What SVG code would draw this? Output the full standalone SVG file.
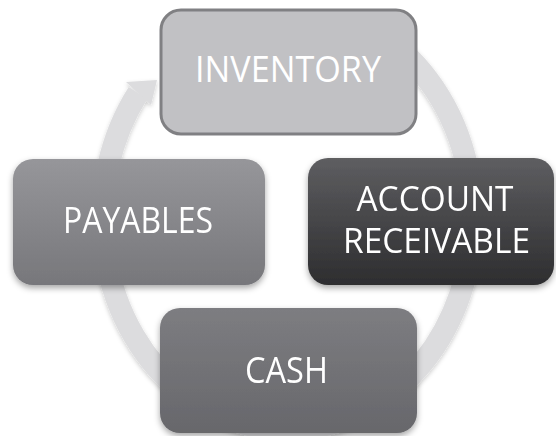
<svg xmlns="http://www.w3.org/2000/svg" width="556" height="436" viewBox="0 0 556 436">
<defs>
<filter id="sh" x="-20%" y="-20%" width="140%" height="150%">
<feDropShadow dx="0" dy="3" stdDeviation="3" flood-color="#000" flood-opacity="0.35"/>
</filter>
<filter id="shr" x="-20%" y="-20%" width="140%" height="140%">
<feDropShadow dx="0" dy="2" stdDeviation="2" flood-color="#000" flood-opacity="0.2"/>
</filter>
<linearGradient id="gAR" x1="0" y1="0" x2="0" y2="1">
<stop offset="0" stop-color="#5e5e61"/>
<stop offset="1" stop-color="#2d2d2f"/>
</linearGradient>
<linearGradient id="gPAY" x1="0" y1="0" x2="0" y2="1">
<stop offset="0" stop-color="#96969a"/>
<stop offset="1" stop-color="#77777b"/>
</linearGradient>
<linearGradient id="gCASH" x1="0" y1="0" x2="0" y2="1">
<stop offset="0" stop-color="#7d7d81"/>
<stop offset="1" stop-color="#67676b"/>
</linearGradient>
</defs>
<style>
.lbl{font-family:"Open Sans","Liberation Sans",sans-serif;font-size:37px;fill:#ffffff;text-anchor:middle;}
.sm{font-size:34px;}
.ring{fill:none;stroke:#dcdcde;stroke-width:22;}
</style>
<rect width="556" height="436" fill="#ffffff"/>
<g id="connectors" filter="url(#shr)">
<path class="ring" d="M 380.5 34.4 A 185 212 0 1 1 138 93"/>
<polygon points="126,82 157,80 151,105" fill="#dcdcde"/>
</g>
<g id="inventory">
<rect x="161" y="10" width="255" height="124" rx="20" fill="#c1c1c4" stroke="#808083" stroke-width="3"/>
<text class="lbl" x="288" y="82" textLength="186" lengthAdjust="spacingAndGlyphs" fill="#f7f7f7">INVENTORY</text>
</g>
<g id="account-receivable" filter="url(#sh)">
<rect x="308" y="158" width="246" height="127" rx="20" fill="url(#gAR)"/>
<text class="lbl sm" x="435" y="211" textLength="157" lengthAdjust="spacingAndGlyphs">ACCOUNT</text>
<text class="lbl sm" x="436.5" y="253" textLength="187" lengthAdjust="spacingAndGlyphs">RECEIVABLE</text>
</g>
<g id="payables" filter="url(#sh)">
<rect x="13" y="159" width="252" height="126" rx="20" fill="url(#gPAY)"/>
<text class="lbl" x="138" y="233" textLength="150" lengthAdjust="spacingAndGlyphs">PAYABLES</text>
</g>
<g id="cash" filter="url(#sh)">
<rect x="160" y="308" width="257" height="125" rx="20" fill="url(#gCASH)"/>
<text class="lbl" x="286.5" y="383" textLength="83" lengthAdjust="spacingAndGlyphs">CASH</text>
</g>
</svg>
